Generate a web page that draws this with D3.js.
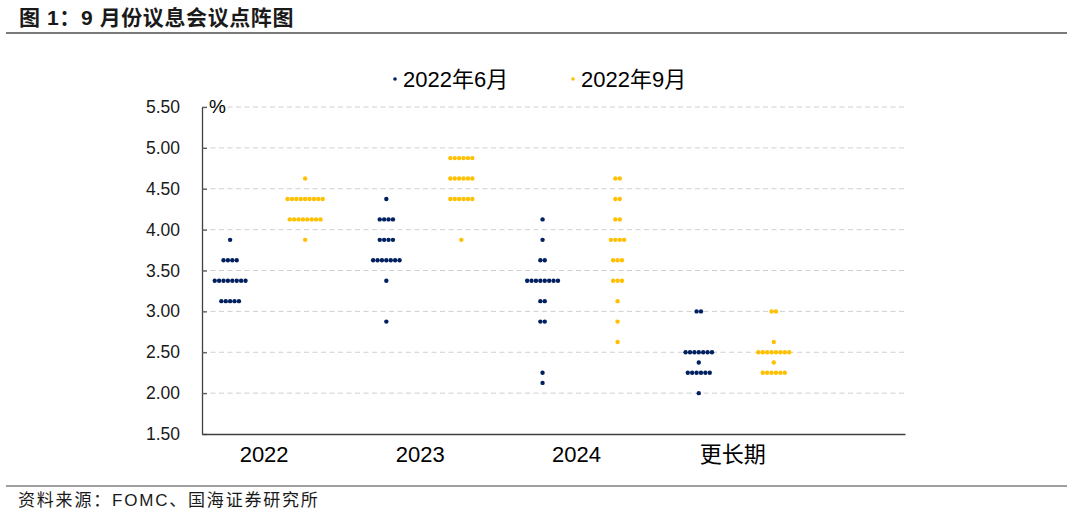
<!DOCTYPE html>
<html><head><meta charset="utf-8">
<script src="https://cdn.jsdelivr.net/npm/d3@7"></script>
<style>
html,body{margin:0;padding:0;background:#fff;}
svg{display:block;font-family:"Liberation Sans","Noto Sans CJK SC",sans-serif;}
</style></head>
<body>
<svg id="chart" width="1080" height="518"></svg>
<script>
// ---------- data ----------
const categories = ["2022", "2023", "2024", "更长期"];
const seriesNames = ["2022年6月", "2022年9月"];
const yTicks = [1.5, 2.0, 2.5, 3.0, 3.5, 4.0, 4.5, 5.0, 5.5];
// [rate, number of participants]
const jun2022 = [[3.875,1],[3.625,4],[3.375,8],[3.125,5]];
const jun2023 = [[4.375,1],[4.125,4],[3.875,4],[3.625,7],[3.375,1],[2.875,1]];
const jun2024 = [[4.125,1],[3.875,1],[3.625,2],[3.375,8],[3.125,2],[2.875,2],[2.25,1],[2.125,1]];
const junLonger = [[3.0,2],[2.5,7],[2.375,1],[2.25,6],[2.0,1]];
const sep2022 = [[4.625,1],[4.375,9],[4.125,8],[3.875,1]];
const sep2023 = [[4.875,6],[4.625,6],[4.375,6],[3.875,1]];
const sep2024 = [[4.625,2],[4.375,2],[4.125,2],[3.875,4],[3.625,3],[3.375,3],[3.125,1],[2.875,1],[2.625,1]];
const sepLonger = [[3.0,2],[2.625,1],[2.5,8],[2.375,1],[2.25,6]];
const juneSeries = [jun2022, jun2023, jun2024, junLonger];
const septSeries = [sep2022, sep2023, sep2024, sepLonger];

// ---------- layout ----------
const colors = ["#002060", "#FFC000"];
const svg = d3.select("#chart");
const plotL = 202, plotR = 905, plotT = 107, plotB = 434;
const x = d3.scaleLinear().domain([-0.42, 4.08]).range([plotL, plotR]);
const y = d3.scaleLinear().domain([1.5, 5.5]).range([plotB, plotT]);
const seriesOffset = [-0.24, 0.24];
const dotGap = 4.4, dotR = 2.2;

// title
svg.append("text").attr("x", 19).attr("y", 25)
  .attr("font-size", 21).attr("font-weight", "bold").attr("fill", "#1a1a1a")
  .attr("letter-spacing", 0.6)
  .text("图 1：9 月份议息会议点阵图");
svg.append("line").attr("x1", 6).attr("x2", 1067).attr("y1", 33).attr("y2", 33)
  .attr("stroke", "#4d4d4d").attr("stroke-width", 1.5);

// footer
svg.append("line").attr("x1", 6).attr("x2", 1067).attr("y1", 486).attr("y2", 486)
  .attr("stroke", "#7f7f7f").attr("stroke-width", 1.5);
svg.append("text").attr("x", 18).attr("y", 506)
  .attr("font-size", 17).attr("fill", "#1a1a1a").attr("letter-spacing", 1.8)
  .text("资料来源：FOMC、国海证券研究所");

// gridlines
svg.append("g").selectAll("line").data(yTicks.filter(t => t > 1.5)).join("line")
  .attr("x1", plotL).attr("x2", plotR)
  .attr("y1", d => y(d)).attr("y2", d => y(d))
  .attr("stroke", "#d0d0d0").attr("stroke-width", 1).attr("stroke-dasharray", "5,3.5");

// y axis
const yAxis = svg.append("g").attr("transform", `translate(${plotL},0)`)
  .call(d3.axisLeft(y).tickValues(yTicks).tickFormat(d3.format(".2f"))
    .tickSizeInner(-5).tickSizeOuter(0).tickPadding(22));
yAxis.select(".domain").attr("stroke", "#404040").attr("stroke-width", 1.3);
yAxis.selectAll(".tick line").attr("stroke", "#595959").attr("stroke-width", 1.3);
yAxis.selectAll(".tick text").attr("font-size", 17.5).attr("fill", "#1a1a1a")
  .attr("font-family", "'Liberation Sans',sans-serif");

// x axis
const xAxis = svg.append("g").attr("transform", `translate(0,${plotB})`)
  .call(d3.axisBottom(x).tickValues(d3.range(categories.length))
    .tickFormat(i => categories[i]).tickSize(0).tickPadding(12));
xAxis.select(".domain").attr("stroke", "#404040").attr("stroke-width", 1.5);
xAxis.selectAll(".tick text").attr("font-size", 22).attr("fill", "#000")
  .attr("font-family", "'Liberation Sans','Noto Sans CJK SC',sans-serif")
  .attr("dx", -4);

// unit
svg.append("text").attr("x", 209).attr("y", 113).attr("font-size", 19).attr("fill", "#000").text("%");

// dots
[juneSeries, septSeries].forEach((series, s) => {
  const pts = [];
  series.forEach((rows, ci) => {
    rows.forEach(([rate, n]) => {
      for (let j = 0; j < n; j++) pts.push({ci, rate, j, n});
    });
  });
  svg.append("g").selectAll("circle").data(pts).join("circle")
    .attr("cx", d => x(d.ci + seriesOffset[s]) + (d.j - (d.n - 1) / 2) * dotGap)
    .attr("cy", d => y(d.rate))
    .attr("r", dotR)
    .attr("fill", colors[s]);
});

// legend
const legendX = [395, 573];
const lg = svg.append("g").selectAll("g").data(seriesNames).join("g")
  .attr("transform", (d, i) => `translate(${legendX[i]},79)`);
lg.append("circle").attr("r", 1.8).attr("fill", (d, i) => colors[i]);
lg.append("text").attr("x", 8).attr("y", 8).attr("font-size", 22).attr("fill", "#000").text(d => d);
</script>
</body></html>
